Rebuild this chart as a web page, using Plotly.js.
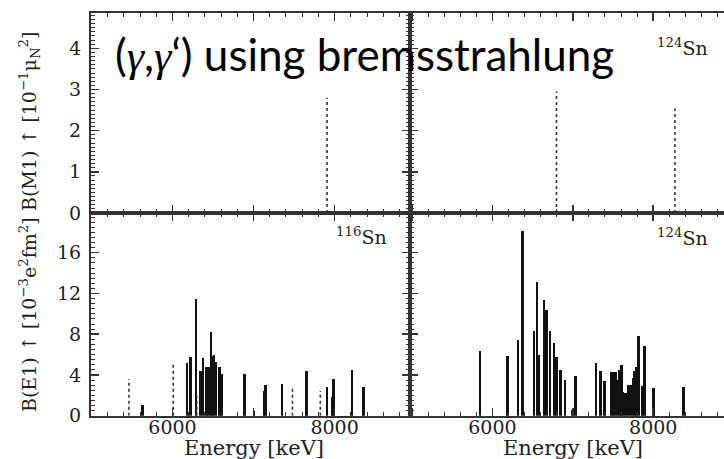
<!DOCTYPE html>
<html>
<head>
<meta charset="utf-8">
<script src="https://cdn.plot.ly/plotly-3.0.1.min.js"></script>
<style>html,body{margin:0;padding:0;background:#fff;}#chart{width:724px;height:459px;}</style>
</head>
<body>
<div id="chart"></div>
<script>
// ---- data (energies in keV, strengths in axis units) ----
const m1_116_dotE = [7907];
const m1_116_dotB = [2.8];
const m1_124_dotE = [6797, 8270];
const m1_124_dotB = [2.95, 2.54];

const e1_116_E = [5630, 6180, 6222, 6288, 6345, 6375, 6420, 6445, 6473, 6491, 6512, 6537, 6582, 6602, 6892, 7008, 7128, 7149, 7352, 7650, 7907, 7969, 7986, 8213, 8357];
const e1_116_B = [1.1, 5.16, 5.8, 11.47, 4.43, 5.7, 4.83, 4.8, 8.2, 5.9, 6.0, 5.3, 4.8, 4.1, 4.05, 0.5, 2.46, 3.0, 3.12, 4.37, 2.86, 1.87, 3.65, 4.47, 2.86];
const e1_116_dotE = [5463, 6010, 6300, 7480, 7824];
const e1_116_dotB = [3.6, 5.05, 1.9, 2.9, 2.46];

const e1_124_E = [5846, 6190, 6319, 6374, 6518, 6555, 6580, 6639, 6672, 6714, 6767, 6797, 6847, 6904, 6996, 7034, 7290, 7345, 7395, 7482, 7507, 7532, 7560, 7577, 7602, 7623, 7652, 7689, 7714, 7747, 7764, 7793, 7814, 7864, 7888, 8005, 8379];
const e1_124_B = [6.37, 5.88, 7.4, 18.1, 8.28, 13.1, 5.98, 11.4, 10.4, 8.28, 7.13, 5.8, 4.5, 3.5, 0.6, 3.85, 5.15, 4.34, 3.45, 4.27, 4.27, 4.3, 3.5, 4.5, 4.93, 2.37, 2.2, 3.0, 3.0, 3.68, 4.43, 4.83, 7.85, 2.93, 6.8, 2.7, 2.86];

const xTickVals = [5000, 6000, 7000, 8000, 9000];
const xTickText = ['', '6000', '', '8000', ''];
const m1TickVals = [0, 1, 2, 3, 4];
const e1TickVals = [0, 4, 8, 12, 16];

// ---- helpers ----
function stems(E, B) {
  const x = [], y = [];
  E.forEach((e, i) => { x.push(e, e, null); y.push(0, B[i], null); });
  return {x, y};
}
function dotted(E, B, xa, ya) {
  const s = stems(E, B);
  return {type:'scatter', mode:'lines', x:s.x, y:s.y, xaxis:xa, yaxis:ya,
    line:{color:'#333', width:1.6, dash:'dot'}, hoverinfo:'skip', showlegend:false};
}
function bars(E, B, xa, ya) {
  return {type:'bar', x:E, y:B, xaxis:xa, yaxis:ya, width:32,
    marker:{color:'#111', line:{width:0}}, showlegend:false};
}

const traces = [
  dotted(m1_116_dotE, m1_116_dotB, 'x', 'y'),
  dotted(m1_124_dotE, m1_124_dotB, 'x2', 'y2'),
  bars(e1_116_E, e1_116_B, 'x3', 'y3'),
  dotted(e1_116_dotE, e1_116_dotB, 'x3', 'y3'),
  bars(e1_124_E, e1_124_B, 'x4', 'y4'),
];

const W = 724, H = 459;
const px = v => v / W, py = v => 1 - v / H;
const serif = 'DejaVu Serif, serif';
const tickFont = {family:serif, size:19, color:'#222'};
const lineC = '#333';

function xAx(domain, range, anchor, showLabels, mirror) {
  return {domain, range, anchor, tickmode:'array', tickvals:xTickVals,
    ticktext: showLabels ? xTickText : ['', '', '', '', ''],
    ticks:'inside', ticklen:8, tickwidth:1.5, tickcolor:lineC,
    minor:{dtick:200, tick0:5000, ticks:'inside', ticklen:4, tickwidth:1, tickcolor:lineC},
    showline:true, linecolor:lineC, linewidth:2, mirror:mirror,
    showgrid:false, zeroline:false, tickfont:tickFont, ticklabelstandoff:-7, fixedrange:true};
}
function yAx(domain, range, anchor, vals, showLabels, minorStep, mirror) {
  return {domain, range, anchor, tickmode:'array', tickvals:vals,
    ticktext: vals.map(v => showLabels ? String(v) : ''),
    ticks:'inside', ticklen:8, tickwidth:1.5, tickcolor:lineC,
    minor:{dtick:minorStep, ticks:'inside', ticklen:4, tickwidth:1, tickcolor:lineC},
    showline:true, linecolor:lineC, linewidth:2, mirror:mirror,
    showgrid:false, zeroline:false, tickfont:tickFont, ticklabelstandoff:4, fixedrange:true};
}

const dxL = [px(91), px(410)], dxR = [px(410), 1];
const dyT = [py(213), py(12.5)], dyB = [py(415.7), py(213)];
const g = '<span style="font-family:\'Liberation Serif\';font-style:italic">γ</span>';

const layout = {
  width: W, height: H,
  margin:{l:0, r:0, t:0, b:0},
  paper_bgcolor:'#fff', plot_bgcolor:'#fff',
  showlegend:false, bargap:0,
  barmode:'overlay',
  xaxis: xAx(dxL, [4995, 8930], 'y', false, 'allticks'),
  xaxis2: xAx(dxR, [4975, 8880], 'y2', false, 'allticks'),
  xaxis3: xAx(dxL, [4995, 8930], 'y3', true, 'allticks'),
  xaxis4: xAx(dxR, [4975, 8880], 'y4', true, 'allticks'),
  yaxis: yAx(dyT, [0, 4.87], 'x', m1TickVals, true, 0.1, 'allticks'),
  yaxis2: yAx(dyT, [0, 4.87], 'x2', m1TickVals, false, 0.1, false),
  yaxis3: yAx(dyB, [0, 19.9], 'x3', e1TickVals, true, 0.5, 'allticks'),
  yaxis4: yAx(dyB, [0, 19.9], 'x4', e1TickVals, false, 0.5, false),
  annotations: [
    {xref:'paper', yref:'paper', x:px(113), y:py(54), xanchor:'left', yanchor:'middle',
     text:'(' + g + ',' + g + '‘) using bremsstrahlung', showarrow:false,
     font:{family:'Lato, Open Sans, sans-serif', size:44, color:'#000'}},
    {xref:'paper', yref:'paper', x:px(682), y:py(47), xanchor:'center', yanchor:'middle',
     text:'<sup>124</sup>Sn', showarrow:false, font:{family:serif, size:19, color:'#222'}},
    {xref:'paper', yref:'paper', x:px(361), y:py(236), xanchor:'center', yanchor:'middle',
     text:'<sup>116</sup>Sn', showarrow:false, font:{family:serif, size:19, color:'#222'}},
    {xref:'paper', yref:'paper', x:px(682), y:py(237), xanchor:'center', yanchor:'middle',
     text:'<sup>124</sup>Sn', showarrow:false, font:{family:serif, size:19, color:'#222'}},
    {xref:'paper', yref:'paper', x:px(29), y:py(122), xanchor:'center', yanchor:'middle', textangle:-90,
     text:'B(M1) ↑ [10<sup>−1</sup>μ<sub>N</sub><sup>2</sup>]', showarrow:false,
     font:{family:serif, size:19, color:'#222'}},
    {xref:'paper', yref:'paper', x:px(28), y:py(315), xanchor:'center', yanchor:'middle', textangle:-90,
     text:'B(E1) ↑ [10<sup>−3</sup>e<sup>2</sup>fm<sup>2</sup>]', showarrow:false,
     font:{family:serif, size:19, color:'#222'}},
    {xref:'x3', yref:'paper', x:7000, y:py(448), xanchor:'center', yanchor:'middle',
     text:'Energy [keV]', showarrow:false, font:{family:serif, size:21, color:'#222'}},
    {xref:'x4', yref:'paper', x:7000, y:py(448), xanchor:'center', yanchor:'middle',
     text:'Energy [keV]', showarrow:false, font:{family:serif, size:21, color:'#222'}},
  ]
};

Plotly.newPlot('chart', traces, layout, {staticPlot:true, displayModeBar:false});
</script>
</body>
</html>
